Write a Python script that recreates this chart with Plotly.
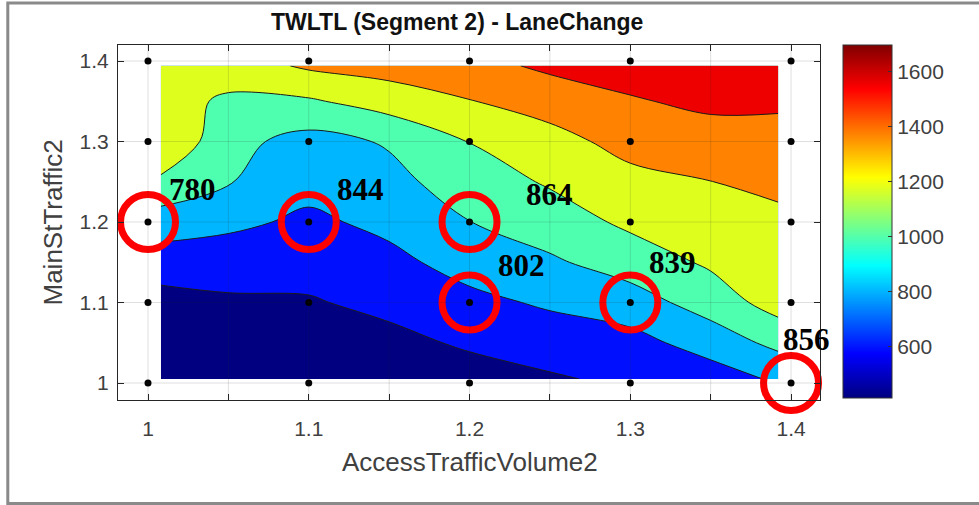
import plotly.graph_objects as go

# ---------------- data ----------------
# surface samples (x = AccessTrafficVolume2, y = MainStTraffic2)
grid_x = [1.008, 1.05, 1.1, 1.15, 1.2, 1.25, 1.3, 1.35, 1.392]
grid_y = [1.005, 1.05, 1.1, 1.15, 1.2, 1.25, 1.3, 1.35, 1.394]
lane_change = [
    [440, 450, 460, 480, 518, 577, 640, 700, 830],
    [480, 500, 505, 547, 627, 694, 730, 889, 1053],
    [521, 570, 583, 649, 750, 827, 911, 1089, 1285],
    [704, 693, 674, 750, 874, 971, 1091, 1231, 1325],
    [897, 843, 764, 847, 997, 1100, 1240, 1315, 1365],
    [1160, 1013, 861, 941, 1100, 1222, 1347, 1398, 1436],
    [1390, 1060, 930, 1020, 1205, 1336, 1462, 1518, 1531],
    [1280, 1168, 1176, 1291, 1393, 1477, 1583, 1640, 1630],
    [1300, 1300, 1430, 1480, 1530, 1640, 1680, 1690, 1697],
]
contour_levels = [600, 800, 1000, 1200, 1400, 1600]
color_min, color_max = 414, 1697

# design points (black dots)
design_x = [1.0, 1.1, 1.2, 1.3, 1.4]
design_y = [1.0, 1.1, 1.2, 1.3, 1.4]

# highlighted points and their labels
circle_x = [1.0, 1.1, 1.2, 1.2, 1.3, 1.4]
circle_y = [1.2, 1.2, 1.2, 1.1, 1.1, 1.0]
circle_labels = ["780", "844", "864", "802", "839", "856"]
label_shift_x = [44, 52, 80, 52, 42, 15]
label_shift_y = [33, 33, 28, 37, 40, 44]

x_tick_vals = [1.0, 1.05, 1.1, 1.15, 1.2, 1.25, 1.3, 1.35, 1.4]
x_tick_text = ["1", "", "1.1", "", "1.2", "", "1.3", "", "1.4"]
y_tick_vals = [1.0, 1.1, 1.2, 1.3, 1.4]
y_tick_text = ["1", "1.1", "1.2", "1.3", "1.4"]
cbar_ticks = [600, 800, 1000, 1200, 1400, 1600]

# ---------------- styling ----------------
jet = [[0.0, "rgb(0,0,128)"], [0.125, "rgb(0,0,255)"], [0.375, "rgb(0,255,255)"],
       [0.625, "rgb(255,255,0)"], [0.875, "rgb(255,0,0)"], [1.0, "rgb(128,0,0)"]]
band_colors = ["#000080", "#0010FF", "#00B6FF", "#4EFFB0", "#DEFF1E", "#FF8200", "#EE0000"]
n = len(band_colors) - 1
band_scale = [[i / n, c] for i, c in enumerate(band_colors)]

TXT = "#404040"
FONT = "Liberation Sans, Arial, sans-serif"
xr = [0.98134, 1.418]
yr = [0.9789, 1.4199]

fig = go.Figure()

fig.add_trace(go.Contour(
    x=grid_x, y=grid_y, z=lane_change,
    autocontour=False,
    contours=dict(start=contour_levels[0], end=contour_levels[-1],
                  size=contour_levels[1] - contour_levels[0], coloring="fill"),
    colorscale=band_scale, showscale=False,
    line=dict(color="#1a1a1a", width=1, smoothing=1),
    hoverinfo="skip",
))

# colour bar (continuous jet)
fig.add_trace(go.Scatter(
    x=[design_x[0]], y=[design_y[0]], mode="markers",
    marker=dict(size=1, opacity=0, color=[color_min], cmin=color_min, cmax=color_max,
                colorscale=jet, showscale=True,
                colorbar=dict(x=1.0328, xanchor="left", xpad=0, y=1.0, yanchor="top", ypad=0,
                              len=353, lenmode="pixels", thickness=49, thicknessmode="pixels",
                              outlinecolor="#333333", outlinewidth=1,
                              tickvals=cbar_ticks, ticks="inside", ticklen=4, tickcolor="#333333",
                              tickfont=dict(family=FONT, size=21, color=TXT))),
    hoverinfo="skip", showlegend=False,
))

# grid of design points
dx, dy = [], []
for yy in design_y:
    for xx in design_x:
        dx.append(xx)
        dy.append(yy)
fig.add_trace(go.Scatter(x=dx, y=dy, mode="markers",
                         marker=dict(color="black", size=7), hoverinfo="skip", cliponaxis=False))

# red circles
fig.add_trace(go.Scatter(x=circle_x, y=circle_y, mode="markers",
                         marker=dict(symbol="circle-open", size=55, color="#FF0000",
                                     line=dict(width=7, color="#FF0000")),
                         hoverinfo="skip", cliponaxis=False))

annotations = []
for cx, cy, lab, sx, sy in zip(circle_x, circle_y, circle_labels, label_shift_x, label_shift_y):
    annotations.append(dict(x=cx, y=cy, xref="x", yref="y", text="<b>%s</b>" % lab,
                            showarrow=False, xshift=sx, yshift=sy,
                            font=dict(family="Liberation Serif, Times New Roman, serif",
                                      size=31, color="black")))

annotations.append(dict(x=0.483, y=1.0648, xref="paper", yref="paper",
                        xanchor="center", yanchor="middle",
                        text="<b>TWLTL (Segment 2) - LaneChange</b>", showarrow=False,
                        font=dict(family=FONT, size=23, color="#111111")))
annotations.append(dict(x=0.5014, y=-0.1746, xref="paper", yref="paper",
                        xanchor="center", yanchor="middle",
                        text="AccessTrafficVolume2", showarrow=False,
                        font=dict(family=FONT, size=26, color=TXT)))
annotations.append(dict(x=-0.0926, y=0.5, xref="paper", yref="paper", textangle=-90,
                        xanchor="center", yanchor="middle",
                        text="MainStTraffic2", showarrow=False,
                        font=dict(family=FONT, size=26, color=TXT)))

shapes = []
for xv in x_tick_vals:
    shapes.append(dict(type="line", xref="x", yref="paper", x0=xv, x1=xv, y0=0, y1=1,
                       line=dict(color="rgba(38,38,38,0.15)", width=1), layer="above"))
for yv in y_tick_vals:
    shapes.append(dict(type="line", xref="paper", yref="y", x0=0, x1=1, y0=yv, y1=yv,
                       line=dict(color="rgba(38,38,38,0.15)", width=1), layer="above"))
# outer frame of the picture
shapes.append(dict(type="rect", xref="paper", yref="paper",
                   x0=-0.157, x1=1.235, y0=-0.2915, y1=1.1185,
                   line=dict(color="#8a8a8a", width=3), layer="above"))

fig.update_layout(
    width=979, height=505,
    margin=dict(l=118, r=159, t=45, b=105),
    paper_bgcolor="white", plot_bgcolor="white",
    showlegend=False,
    font=dict(family=FONT, color=TXT),
    annotations=annotations, shapes=shapes,
    xaxis=dict(range=xr, tickvals=x_tick_vals, ticktext=x_tick_text, showgrid=False,
               zeroline=False, showline=True, linecolor="#262626", linewidth=1, mirror="ticks",
               ticks="inside", ticklen=6, tickcolor="#262626", ticklabelstandoff=10,
               tickfont=dict(family=FONT, size=21, color=TXT)),
    yaxis=dict(range=yr, tickvals=y_tick_vals, ticktext=y_tick_text, showgrid=False,
               zeroline=False, showline=True, linecolor="#262626", linewidth=1, mirror="ticks",
               ticks="inside", ticklen=6, tickcolor="#262626", ticklabelstandoff=4,
               tickfont=dict(family=FONT, size=21, color=TXT)),
)

fig.write_html("out.html", config={"displayModeBar": False},
               post_script="document.body.style.margin='0px';")
